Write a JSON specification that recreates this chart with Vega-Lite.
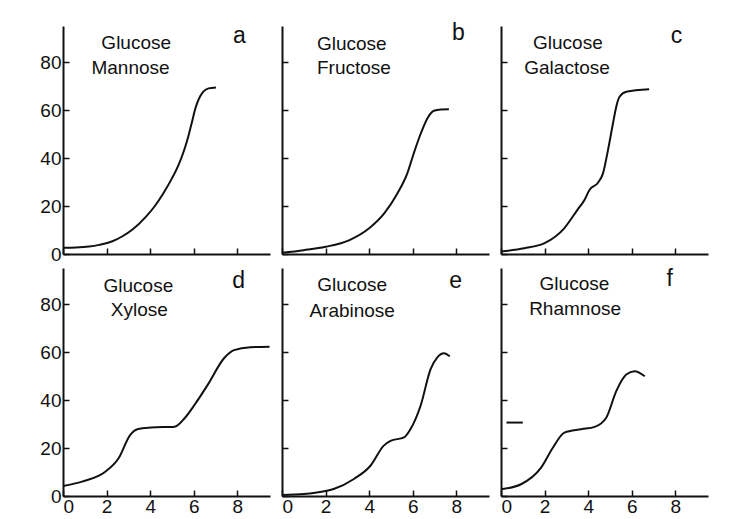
{
  "$schema": "https://vega.github.io/schema/vega-lite/v6.json",
  "padding": {"left": 39, "top": 22, "right": 5, "bottom": 0},
  "background": "white",
  "config": {
    "view": {"stroke": null},
    "font": "Liberation Sans",
    "axis": {
      "domainColor": "#111", "domainWidth": 2, "tickColor": "#111", "tickWidth": 1.5,
      "tickSize": -6, "labelPadding": 8, "grid": false, "title": null,
      "labelFont": "Liberation Sans", "labelFontSize": 19, "labelColor": "#111"
    }
  },
  "datasets": {
    "curves": [
      {"p":"a","s":"m","x":0,"y":2.6},{"p":"a","s":"m","x":0.6,"y":2.7},{"p":"a","s":"m","x":1.2,"y":3.1},{"p":"a","s":"m","x":1.66,"y":3.8},{"p":"a","s":"m","x":2.27,"y":5.3},{"p":"a","s":"m","x":2.73,"y":7.4},{"p":"a","s":"m","x":3.19,"y":10.2},{"p":"a","s":"m","x":3.8,"y":15.5},{"p":"a","s":"m","x":4.2,"y":19.8},{"p":"a","s":"m","x":4.6,"y":25.2},{"p":"a","s":"m","x":5.0,"y":31.5},{"p":"a","s":"m","x":5.3,"y":37},{"p":"a","s":"m","x":5.55,"y":43},{"p":"a","s":"m","x":5.75,"y":49},{"p":"a","s":"m","x":5.92,"y":55},{"p":"a","s":"m","x":6.07,"y":60.5},{"p":"a","s":"m","x":6.22,"y":64.3},{"p":"a","s":"m","x":6.42,"y":67.4},{"p":"a","s":"m","x":6.68,"y":69},{"p":"a","s":"m","x":7.02,"y":69.4},
      {"p":"b","s":"m","x":0,"y":0.5},{"p":"b","s":"m","x":1,"y":1.6},{"p":"b","s":"m","x":2,"y":3},{"p":"b","s":"m","x":3.1,"y":5.8},{"p":"b","s":"m","x":4,"y":10.7},{"p":"b","s":"m","x":4.7,"y":17},{"p":"b","s":"m","x":5.3,"y":25.3},{"p":"b","s":"m","x":5.75,"y":33.6},{"p":"b","s":"m","x":6.05,"y":42},{"p":"b","s":"m","x":6.36,"y":50},{"p":"b","s":"m","x":6.67,"y":56.5},{"p":"b","s":"m","x":6.97,"y":59.7},{"p":"b","s":"m","x":7.3,"y":60.2},{"p":"b","s":"m","x":7.66,"y":60.3},
      {"p":"c","s":"m","x":0,"y":1},{"p":"c","s":"m","x":1.07,"y":2.4},{"p":"c","s":"m","x":2,"y":4.5},{"p":"c","s":"m","x":2.9,"y":10.7},{"p":"c","s":"m","x":3.5,"y":18.3},{"p":"c","s":"m","x":3.83,"y":22.5},{"p":"c","s":"m","x":4.06,"y":26.7},{"p":"c","s":"m","x":4.45,"y":29.7},{"p":"c","s":"m","x":4.68,"y":33.6},{"p":"c","s":"m","x":4.91,"y":43.3},{"p":"c","s":"m","x":5.14,"y":54.5},{"p":"c","s":"m","x":5.29,"y":61.4},{"p":"c","s":"m","x":5.44,"y":65.5},{"p":"c","s":"m","x":5.75,"y":67.6},{"p":"c","s":"m","x":6.8,"y":68.6},
      {"p":"d","s":"m","x":0,"y":4.2},{"p":"d","s":"m","x":0.88,"y":6},{"p":"d","s":"m","x":1.94,"y":10.1},{"p":"d","s":"m","x":2.55,"y":15.7},{"p":"d","s":"m","x":3.08,"y":25.4},{"p":"d","s":"m","x":3.45,"y":27.9},{"p":"d","s":"m","x":4.06,"y":28.5},{"p":"d","s":"m","x":5.12,"y":28.9},{"p":"d","s":"m","x":5.58,"y":32.4},{"p":"d","s":"m","x":6.03,"y":37.9},{"p":"d","s":"m","x":6.64,"y":46.3},{"p":"d","s":"m","x":7.39,"y":57.4},{"p":"d","s":"m","x":7.85,"y":60.8},{"p":"d","s":"m","x":8.6,"y":62},{"p":"d","s":"m","x":9.48,"y":62.2},
      {"p":"e","s":"m","x":0,"y":0.4},{"p":"e","s":"m","x":1,"y":0.8},{"p":"e","s":"m","x":1.6,"y":1.5},{"p":"e","s":"m","x":2.37,"y":2.9},{"p":"e","s":"m","x":3.3,"y":7.1},{"p":"e","s":"m","x":4.06,"y":12.6},{"p":"e","s":"m","x":4.67,"y":21},{"p":"e","s":"m","x":4.98,"y":23},{"p":"e","s":"m","x":5.6,"y":24.4},{"p":"e","s":"m","x":5.9,"y":27.9},{"p":"e","s":"m","x":6.36,"y":37.6},{"p":"e","s":"m","x":6.82,"y":52.9},{"p":"e","s":"m","x":7.13,"y":57.8},{"p":"e","s":"m","x":7.43,"y":59.5},{"p":"e","s":"m","x":7.7,"y":58.2},
      {"p":"f","s":"m","x":0,"y":2.8},{"p":"f","s":"m","x":0.92,"y":4.9},{"p":"f","s":"m","x":1.84,"y":11.8},{"p":"f","s":"m","x":2.38,"y":20.1},{"p":"f","s":"m","x":2.91,"y":26.4},{"p":"f","s":"m","x":3.68,"y":27.8},{"p":"f","s":"m","x":4.3,"y":28.8},{"p":"f","s":"m","x":4.83,"y":32.6},{"p":"f","s":"m","x":5.29,"y":43.7},{"p":"f","s":"m","x":5.75,"y":50.6},{"p":"f","s":"m","x":6.13,"y":52},{"p":"f","s":"m","x":6.6,"y":49.9},
      {"p":"f","s":"dash","x":0.25,"y":30.6},{"p":"f","s":"dash","x":1.0,"y":30.6}
    ],
    "labels": [
      {"p":"a","x":3.36,"y":88,"t":"Glucose","k":"w"},{"p":"a","x":3.1,"y":77.5,"t":"Mannose","k":"w"},{"p":"a","x":8.1,"y":91,"t":"a","k":"l"},
      {"p":"b","x":3.2,"y":87.5,"t":"Glucose","k":"w"},{"p":"b","x":3.3,"y":77.5,"t":"Fructose","k":"w"},{"p":"b","x":8.1,"y":92,"t":"b","k":"l"},
      {"p":"c","x":3.07,"y":87.8,"t":"Glucose","k":"w"},{"p":"c","x":3.03,"y":77.4,"t":"Galactose","k":"w"},{"p":"c","x":8.05,"y":91,"t":"c","k":"l"},
      {"p":"d","x":3.46,"y":87.6,"t":"Glucose","k":"w"},{"p":"d","x":3.5,"y":77.5,"t":"Xylose","k":"w"},{"p":"d","x":8.06,"y":89.5,"t":"d","k":"l"},
      {"p":"e","x":3.22,"y":87.9,"t":"Glucose","k":"w"},{"p":"e","x":3.22,"y":77.2,"t":"Arabinose","k":"w"},{"p":"e","x":7.97,"y":89.7,"t":"e","k":"l"},
      {"p":"f","x":3.37,"y":88.2,"t":"Glucose","k":"w"},{"p":"f","x":3.4,"y":77.8,"t":"Rhamnose","k":"w"},{"p":"f","x":7.74,"y":90.3,"t":"f","k":"l"}
    ]
  },
  "columns": 3,
  "spacing": {"row": 14, "column": 12},
  "bounds": "flush",
  "concat": [
    {"width": 207, "height": 228, "layer": [
      {"data": {"name": "curves"}, "transform": [{"filter": "datum.p === 'a'"}], "mark": {"type": "line", "interpolate": "monotone", "color": "#111", "strokeWidth": 2},
       "encoding": {"x": {"field": "x", "type": "quantitative", "scale": {"domain": [0, 9.5], "nice": false}, "axis": {"values": [0,2,4,6,8], "labels": false}},
                    "y": {"field": "y", "type": "quantitative", "scale": {"domain": [0, 95], "nice": false}, "axis": {"values": [0,20,40,60,80]}},
                    "detail": {"field": "s"}}},
      {"data": {"name": "labels"}, "transform": [{"filter": "datum.p === 'a'"}], "mark": {"type": "text", "color": "#111", "font": "Liberation Sans"},
       "encoding": {"x": {"field": "x", "type": "quantitative"}, "y": {"field": "y", "type": "quantitative"}, "text": {"field": "t"},
                    "size": {"field": "k", "type": "nominal", "scale": {"domain": ["w","l"], "range": [19, 23]}, "legend": null}}}
    ]},
    {"width": 207, "height": 228, "layer": [
      {"data": {"name": "curves"}, "transform": [{"filter": "datum.p === 'b'"}], "mark": {"type": "line", "interpolate": "monotone", "color": "#111", "strokeWidth": 2},
       "encoding": {"x": {"field": "x", "type": "quantitative", "scale": {"domain": [0, 9.5], "nice": false}, "axis": {"values": [0,2,4,6,8], "labels": false}},
                    "y": {"field": "y", "type": "quantitative", "scale": {"domain": [0, 95], "nice": false}, "axis": {"values": [0,20,40,60,80], "labels": false}},
                    "detail": {"field": "s"}}},
      {"data": {"name": "labels"}, "transform": [{"filter": "datum.p === 'b'"}], "mark": {"type": "text", "color": "#111", "font": "Liberation Sans"},
       "encoding": {"x": {"field": "x", "type": "quantitative"}, "y": {"field": "y", "type": "quantitative"}, "text": {"field": "t"},
                    "size": {"field": "k", "type": "nominal", "scale": {"domain": ["w","l"], "range": [19, 23]}, "legend": null}}}
    ]},
    {"width": 207, "height": 228, "layer": [
      {"data": {"name": "curves"}, "transform": [{"filter": "datum.p === 'c'"}], "mark": {"type": "line", "interpolate": "monotone", "color": "#111", "strokeWidth": 2},
       "encoding": {"x": {"field": "x", "type": "quantitative", "scale": {"domain": [0, 9.5], "nice": false}, "axis": {"values": [0,2,4,6,8], "labels": false}},
                    "y": {"field": "y", "type": "quantitative", "scale": {"domain": [0, 95], "nice": false}, "axis": {"values": [0,20,40,60,80], "labels": false}},
                    "detail": {"field": "s"}}},
      {"data": {"name": "labels"}, "transform": [{"filter": "datum.p === 'c'"}], "mark": {"type": "text", "color": "#111", "font": "Liberation Sans"},
       "encoding": {"x": {"field": "x", "type": "quantitative"}, "y": {"field": "y", "type": "quantitative"}, "text": {"field": "t"},
                    "size": {"field": "k", "type": "nominal", "scale": {"domain": ["w","l"], "range": [19, 23]}, "legend": null}}}
    ]},
    {"width": 207, "height": 228, "layer": [
      {"data": {"name": "curves"}, "transform": [{"filter": "datum.p === 'd'"}], "mark": {"type": "line", "interpolate": "monotone", "color": "#111", "strokeWidth": 2},
       "encoding": {"x": {"field": "x", "type": "quantitative", "scale": {"domain": [0, 9.5], "nice": false}, "axis": {"values": [0,2,4,6,8], "labelPadding": 7}},
                    "y": {"field": "y", "type": "quantitative", "scale": {"domain": [0, 95], "nice": false}, "axis": {"values": [0,20,40,60,80]}},
                    "detail": {"field": "s"}}},
      {"data": {"name": "labels"}, "transform": [{"filter": "datum.p === 'd'"}], "mark": {"type": "text", "color": "#111", "font": "Liberation Sans"},
       "encoding": {"x": {"field": "x", "type": "quantitative"}, "y": {"field": "y", "type": "quantitative"}, "text": {"field": "t"},
                    "size": {"field": "k", "type": "nominal", "scale": {"domain": ["w","l"], "range": [19, 23]}, "legend": null}}}
    ]},
    {"width": 207, "height": 228, "layer": [
      {"data": {"name": "curves"}, "transform": [{"filter": "datum.p === 'e'"}], "mark": {"type": "line", "interpolate": "monotone", "color": "#111", "strokeWidth": 2},
       "encoding": {"x": {"field": "x", "type": "quantitative", "scale": {"domain": [0, 9.5], "nice": false}, "axis": {"values": [0,2,4,6,8], "labelPadding": 7}},
                    "y": {"field": "y", "type": "quantitative", "scale": {"domain": [0, 95], "nice": false}, "axis": {"values": [0,20,40,60,80], "labels": false}},
                    "detail": {"field": "s"}}},
      {"data": {"name": "labels"}, "transform": [{"filter": "datum.p === 'e'"}], "mark": {"type": "text", "color": "#111", "font": "Liberation Sans"},
       "encoding": {"x": {"field": "x", "type": "quantitative"}, "y": {"field": "y", "type": "quantitative"}, "text": {"field": "t"},
                    "size": {"field": "k", "type": "nominal", "scale": {"domain": ["w","l"], "range": [19, 23]}, "legend": null}}}
    ]},
    {"width": 207, "height": 228, "layer": [
      {"data": {"name": "curves"}, "transform": [{"filter": "datum.p === 'f'"}], "mark": {"type": "line", "interpolate": "monotone", "color": "#111", "strokeWidth": 2},
       "encoding": {"x": {"field": "x", "type": "quantitative", "scale": {"domain": [0, 9.5], "nice": false}, "axis": {"values": [0,2,4,6,8], "labelPadding": 7}},
                    "y": {"field": "y", "type": "quantitative", "scale": {"domain": [0, 95], "nice": false}, "axis": {"values": [0,20,40,60,80], "labels": false}},
                    "detail": {"field": "s"}}},
      {"data": {"name": "labels"}, "transform": [{"filter": "datum.p === 'f'"}], "mark": {"type": "text", "color": "#111", "font": "Liberation Sans"},
       "encoding": {"x": {"field": "x", "type": "quantitative"}, "y": {"field": "y", "type": "quantitative"}, "text": {"field": "t"},
                    "size": {"field": "k", "type": "nominal", "scale": {"domain": ["w","l"], "range": [19, 23]}, "legend": null}}}
    ]}
  ]
}
